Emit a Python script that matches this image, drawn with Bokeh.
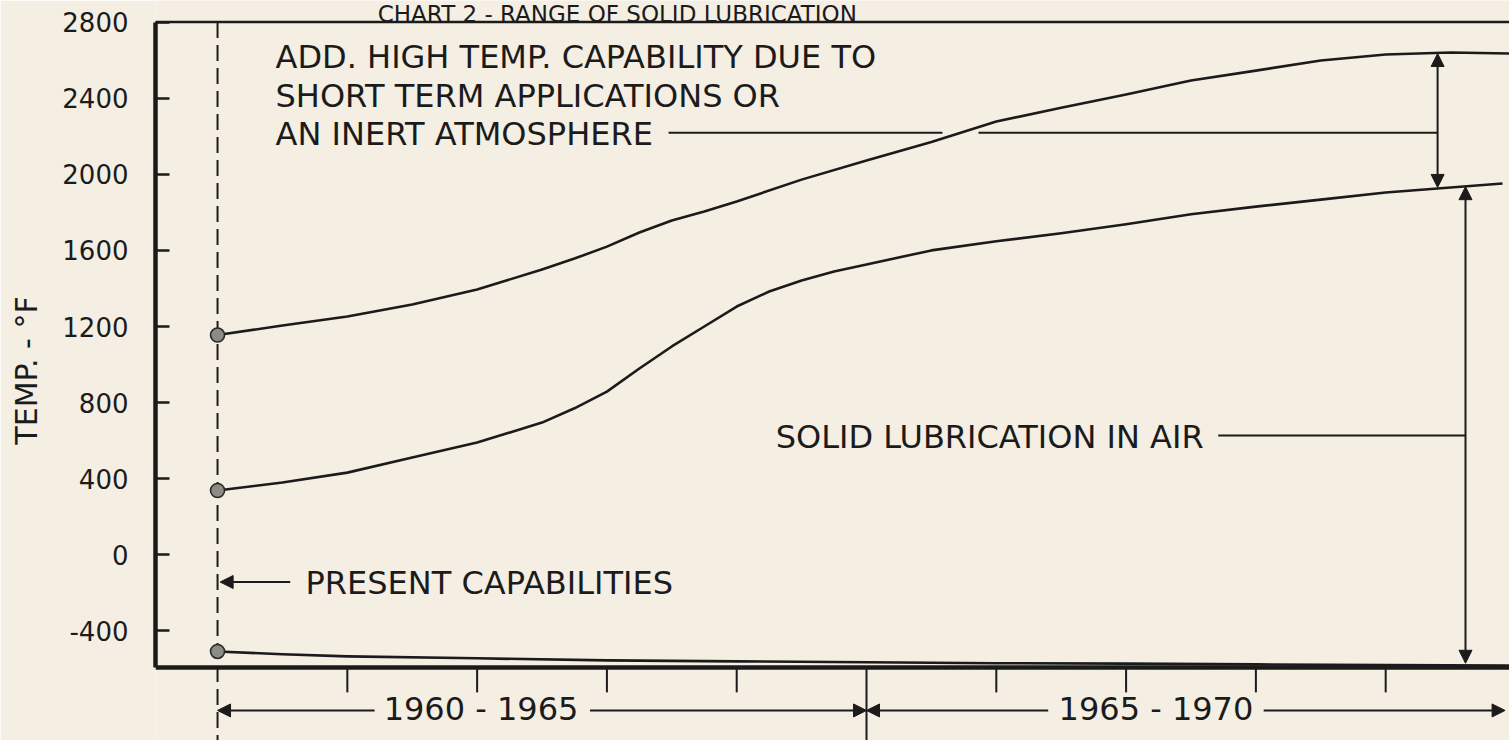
from bokeh.plotting import figure
from bokeh.models import Range1d, FixedTicker, Arrow, NormalHead
from bokeh.core.properties import value
from bokeh.embed import file_html
from bokeh.resources import INLINE

# ---------------- data ----------------
high_years = [1960.0, 1960.5, 1961.0, 1961.5, 1962.0, 1962.5, 1962.75, 1963.0, 1963.25,
              1963.5, 1963.75, 1964.0, 1964.5, 1965.0, 1965.5, 1966.0, 1966.5, 1967.0,
              1967.5, 1968.0, 1968.5, 1969.0, 1969.5, 1969.95]
high_temp = [1155, 1205, 1253, 1316, 1394, 1500, 1557, 1620, 1694,
             1757, 1804, 1857, 1972, 2072, 2170, 2277, 2350, 2419,
             2493, 2545, 2598, 2630, 2640, 2635]

air_years = [1960.0, 1960.5, 1961.0, 1961.5, 1962.0, 1962.5, 1962.75, 1963.0, 1963.25,
             1963.5, 1963.75, 1964.0, 1964.25, 1964.5, 1964.75, 1965.0, 1965.5, 1966.0,
             1966.5, 1967.0, 1967.5, 1968.0, 1968.5, 1969.0, 1969.5, 1969.9]
air_temp = [338, 380, 432, 512, 590, 695, 770, 858, 979,
            1095, 1200, 1305, 1384, 1442, 1489, 1526, 1600, 1648,
            1690, 1737, 1790, 1830, 1867, 1904, 1931, 1952]

low_years = [1960.0, 1960.5, 1961.0, 1962.0, 1963.0, 1964.0, 1965.0, 1966.0, 1967.0,
             1968.0, 1969.0, 1969.95]
low_temp = [-508, -523, -534, -544, -555, -560, -565, -570, -572, -576, -580, -582]

y_ticks = [-400, 0, 400, 800, 1200, 1600, 2000, 2400, 2800]
y_tick_labels = ["-400", "0", "400", "800", "1200", "1600", "2000", "2400", "2800"]
x_minor_years = [1961, 1962, 1963, 1964, 1966, 1967, 1968, 1969]
period_bounds = [1960, 1965, 1970]
period_labels = ["1960 - 1965", "1965 - 1970"]

title_text = "CHART 2 - RANGE OF SOLID LUBRICATION"
add_lines = ["ADD. HIGH TEMP. CAPABILITY DUE TO",
             "SHORT TERM APPLICATIONS OR",
             "AN INERT ATMOSPHERE"]
air_text = "SOLID LUBRICATION IN AIR"
present_text = "PRESENT CAPABILITIES"

# ---------------- styling ----------------
INK = "#1b1b1b"
PAPER = "#f4eee3"
FONT = value("DejaVu Sans")

X0, X1 = 1959.522, 1969.954
Y_FLOOR, Y_TOP = -592, 2800
Y0, Y1 = -976, 2913.5

p = figure(width=1509, height=740, x_range=Range1d(X0, X1), y_range=Range1d(Y0, Y1),
           x_axis_location=None, toolbar_location=None, output_backend="svg",
           title=None, min_border_left=155, min_border_right=0,
           min_border_top=0, min_border_bottom=0,
           background_fill_color=PAPER, border_fill_color=PAPER,
           outline_line_color=None)
p.grid.visible = False

ax = p.yaxis[0]
ax.ticker = FixedTicker(ticks=y_ticks)
ax.major_label_overrides = {t: l for t, l in zip(y_ticks, y_tick_labels)}
ax.bounds = (Y_FLOOR, Y_TOP)
ax.axis_line_width = 4.5
ax.axis_line_color = INK
ax.major_tick_in = 14
ax.major_tick_out = 0
ax.major_tick_line_width = 2.5
ax.major_tick_line_color = INK
ax.minor_tick_line_color = None
ax.major_label_text_font = "DejaVu Sans"
ax.major_label_text_font_size = "26px"
ax.major_label_text_color = INK
ax.major_label_standoff = 27
ax.axis_label = "TEMP. - °F"
ax.axis_label_text_font = "DejaVu Sans"
ax.axis_label_text_font_size = "30px"
ax.axis_label_text_font_style = "normal"
ax.axis_label_text_color = INK
ax.axis_label_standoff = 15

# frame lines (top and bottom)
p.segment(x0=[X0 - 0.04, X0], y0=[Y_TOP, Y_FLOOR], x1=[X1, X1], y1=[Y_TOP, Y_FLOOR],
          line_color=INK, line_width=[2.5, 4.5])

# x tick marks below the frame
tick_len = 131
p.segment(x0=x_minor_years, y0=[Y_FLOOR] * len(x_minor_years),
          x1=x_minor_years, y1=[Y_FLOOR - tick_len] * len(x_minor_years),
          line_color=INK, line_width=2)
# period divider (1965) down to bottom
p.segment(x0=[period_bounds[1]], y0=[Y_FLOOR], x1=[period_bounds[1]], y1=[Y0],
          line_color=INK, line_width=2)
# dashed "present" line
p.segment(x0=[period_bounds[0]], y0=[Y_TOP], x1=[period_bounds[0]], y1=[Y0],
          line_color=INK, line_width=2, line_dash="16 7")

# curves
for xs, ys in ((high_years, high_temp), (air_years, air_temp), (low_years, low_temp)):
    p.line(xs, ys, line_color=INK, line_width=2.6, line_join="round")

# present-capability markers
p.scatter([high_years[0], air_years[0], low_years[0]],
          [high_temp[0], air_temp[0], low_temp[0]], size=14,
          marker="circle", fill_color="#8d8b86", line_color="#2a2a2a", line_width=1.6)


def head():
    return NormalHead(size=13, fill_color=INK, line_color=INK, line_width=1)


def arrow(x0, y0, x1, y1, both=False):
    p.add_layout(Arrow(x_start=x0, y_start=y0, x_end=x1, y_end=y1, end=head(),
                       start=head() if both else None,
                       line_color=INK, line_width=2))


# range arrows on the right
arrow(1969.40, 1931, 1969.40, 2635, both=True)
arrow(1969.615, -570, 1969.615, 1935, both=True)

# leaders
p.segment(x0=[1963.475, 1965.863, 1967.71], y0=[2218, 2218, 627],
          x1=[1965.585, 1969.40, 1969.615], y1=[2218, 2218, 627],
          line_color=INK, line_width=2)
arrow(1960.56, -143, 1960.02, -143)

# timeline arrows
TL = -818
arrow(1961.21, TL, period_bounds[0], TL)
arrow(1962.87, TL, period_bounds[1], TL)
arrow(1966.40, TL, period_bounds[1], TL)
arrow(1968.06, TL, 1969.92, TL)

# texts
common = dict(text_font=FONT, text_color=INK, text_baseline="alphabetic")
p.text([1963.08], [2842], text=[title_text], text_align="center",
       text_font_size="23px", **common)
p.text([1960.447] * 3, [2619, 2414, 2214], text=add_lines, text_align="left",
       text_font_size="32px", **common)
p.text([1964.30], [617], text=[air_text], text_align="left",
       text_font_size="32px", **common)
p.text([1960.678], [-146], text=[present_text], text_align="left",
       text_font_size="32px", **common)
p.text([1962.03, 1967.23], [-812, -812], text=period_labels, text_align="center",
       text_font_size="32px", **common)

open("out.html", "w").write(file_html(p, INLINE))
